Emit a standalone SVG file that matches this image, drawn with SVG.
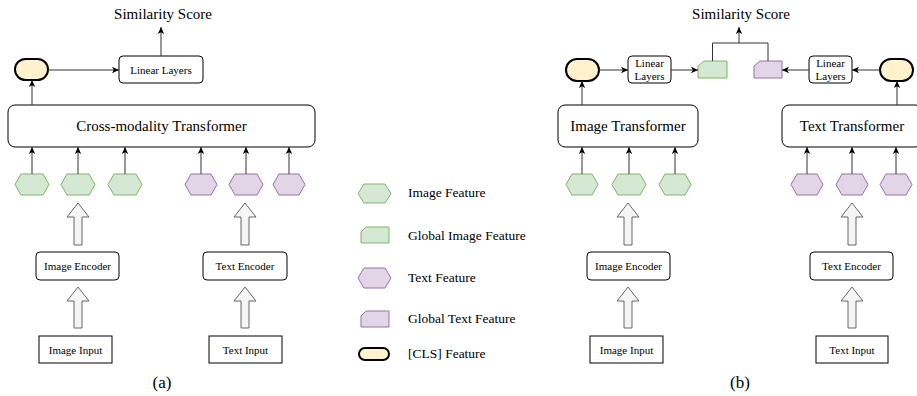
<svg xmlns="http://www.w3.org/2000/svg" width="917" height="396" viewBox="0 0 917 396">
<defs>
<marker id="ah" markerUnits="userSpaceOnUse" markerWidth="8" markerHeight="8" viewBox="0 0 8 8" refX="7" refY="4" orient="auto">
<path d="M0,0.8 L7,4 L0,7.2 L1.8,4 z" fill="#000"/>
</marker>
</defs>
<style>
text{font-family:"Liberation Serif","Times New Roman",serif;fill:#000;text-anchor:middle}
.box{fill:#fff;stroke:#000;stroke-width:1}
.hg{fill:#d5e8d4;stroke:#82b366;stroke-width:1}
.hp{fill:#e1d5e7;stroke:#9673a6;stroke-width:1}
.cls{fill:#fff2cc;stroke:#000;stroke-width:2}
.big{fill:#f5f5f5;stroke:#666;stroke-width:1}
.c{fill:none;stroke:#333;stroke-width:1;marker-end:url(#ah)}
.ln{fill:none;stroke:#333;stroke-width:1}
.t11{font-size:11px}
.t13{font-size:13.5px;text-anchor:start}
.t15{font-size:15px}
.t17{font-size:17px}
</style>
<rect width="917" height="396" fill="#fff"/>

<!-- Panel (a) -->
<g id="a-score"><text class="t15" x="163" y="19">Similarity Score</text></g>
<g id="a-linear"><rect class="box" x="119" y="56" width="84" height="27" rx="4"/><text class="t11" x="161" y="73.5">Linear Layers</text></g>
<g id="a-cls"><rect class="cls" x="15" y="59" width="33" height="21" rx="10.5"/></g>
<g id="a-cross"><rect class="box" x="8" y="105" width="307" height="42" rx="7"/><text class="t15" x="161.5" y="131">Cross-modality Transformer</text></g>
<g id="a-img-feat">
<polygon class="hg" points="15,184.5 21,174 43,174 49,184.5 43,195 21,195"/>
<polygon class="hg" points="61,184.5 67,174 89,174 95,184.5 89,195 67,195"/>
<polygon class="hg" points="108,184.5 114,174 136,174 142,184.5 136,195 114,195"/>
</g>
<g id="a-txt-feat">
<polygon class="hp" points="185,184.5 191,174 211,174 217,184.5 211,195 191,195"/>
<polygon class="hp" points="229,184.5 235,174 257,174 263,184.5 257,195 235,195"/>
<polygon class="hp" points="273,184.5 279,174 299,174 305,184.5 299,195 279,195"/>
</g>
<g id="a-img-enc"><rect class="box" x="36" y="252" width="83" height="28" rx="4"/><text class="t11" x="77.5" y="270">Image Encoder</text></g>
<g id="a-txt-enc"><rect class="box" x="203" y="252" width="84" height="28" rx="4"/><text class="t11" x="245" y="270">Text Encoder</text></g>
<g id="a-img-in"><rect class="box" x="39" y="336" width="73" height="27"/><text class="t11" x="75.5" y="353.5">Image Input</text></g>
<g id="a-txt-in"><rect class="box" x="209" y="336" width="73" height="27"/><text class="t11" x="245.5" y="353.5">Text Input</text></g>
<g id="a-label"><text class="t17" x="162" y="388">(a)</text></g>

<!-- Legend -->
<g id="legend">
<polygon class="hg" points="358,193.5 364,184 385,184 391,193.5 385,203 364,203"/>
<text class="t13" x="408" y="197">Image Feature</text>
<polygon class="hg" points="361,232 366,227 389,227 389,243 361,243"/>
<text class="t13" x="408" y="240">Global Image Feature</text>
<polygon class="hp" points="358,278 364,268 385,268 391,278 385,288 364,288"/>
<text class="t13" x="408" y="282">Text Feature</text>
<polygon class="hp" points="361,316 366,311 389,311 389,327 361,327"/>
<text class="t13" x="408" y="323">Global Text Feature</text>
<rect class="cls" x="359" y="348" width="30" height="12" rx="6"/>
<text class="t13" x="408" y="358">[CLS] Feature</text>
</g>

<!-- Panel (b) -->
<g id="b-score"><text class="t15" x="741" y="19">Similarity Score</text></g>
<g id="b-cls-l"><rect class="cls" x="566" y="59" width="33" height="22" rx="11"/></g>
<g id="b-linear-l"><rect class="box" x="628" y="56" width="43" height="27" rx="4"/><text class="t11" x="649.5" y="67">Linear</text><text class="t11" x="649.5" y="80">Layers</text></g>
<g id="b-glob-img"><polygon class="hg" points="698,66 704,61 727,61 727,78 698,78"/></g>
<g id="b-glob-txt"><polygon class="hp" points="754,66 760,61 782,61 782,78 754,78"/></g>
<g id="b-linear-r"><rect class="box" x="809" y="56" width="43" height="27" rx="4"/><text class="t11" x="830.5" y="67">Linear</text><text class="t11" x="830.5" y="80">Layers</text></g>
<g id="b-cls-r"><rect class="cls" x="880" y="59" width="33" height="22" rx="11"/></g>
<g id="b-img-tr"><rect class="box" x="558" y="105" width="140" height="42" rx="7"/><text class="t15" x="628" y="131">Image Transformer</text></g>
<g id="b-txt-tr"><rect class="box" x="782" y="105" width="140" height="42" rx="7"/><text class="t15" x="852" y="131">Text Transformer</text></g>
<g id="b-img-feat">
<polygon class="hg" points="566,184.5 572,174 592,174 598,184.5 592,195 572,195"/>
<polygon class="hg" points="612,184.5 618,174 640,174 646,184.5 640,195 618,195"/>
<polygon class="hg" points="659,184.5 665,174 685,174 691,184.5 685,195 665,195"/>
</g>
<g id="b-txt-feat">
<polygon class="hp" points="791,184.5 797,174 817,174 823,184.5 817,195 797,195"/>
<polygon class="hp" points="836,184.5 842,174 862,174 868,184.5 862,195 842,195"/>
<polygon class="hp" points="880,184.5 886,174 906,174 912,184.5 906,195 886,195"/>
</g>
<g id="b-img-enc"><rect class="box" x="587" y="252" width="83" height="28" rx="4"/><text class="t11" x="628.5" y="270">Image Encoder</text></g>
<g id="b-txt-enc"><rect class="box" x="810" y="252" width="83" height="28" rx="4"/><text class="t11" x="851.5" y="270">Text Encoder</text></g>
<g id="b-img-in"><rect class="box" x="590" y="336" width="73" height="27"/><text class="t11" x="626.5" y="353.5">Image Input</text></g>
<g id="b-txt-in"><rect class="box" x="816" y="336" width="72" height="27"/><text class="t11" x="852" y="353.5">Text Input</text></g>
<g id="b-label"><text class="t17" x="740" y="388">(b)</text></g>

<!-- Connectors -->
<g id="connectors">
<path class="c" d="M161,56 V27"/>
<path class="c" d="M48,70 H119"/>
<path class="c" d="M32,105 V80"/>
<path class="c" d="M32,174 V147"/>
<path class="c" d="M78,174 V147"/>
<path class="c" d="M125,174 V147"/>
<path class="c" d="M201,174 V147"/>
<path class="c" d="M246,174 V147"/>
<path class="c" d="M289,174 V147"/>

<path class="ln" d="M712.5,61 V43 H768 V61"/>
<path class="c" d="M739,43 V27"/>
<path class="c" d="M599,70 H628"/>
<path class="c" d="M671,70 H698"/>
<path class="c" d="M880,70 H852"/>
<path class="c" d="M809,70 H782"/>
<path class="c" d="M582,105 V81"/>
<path class="c" d="M897,105 V81"/>
<path class="c" d="M582,174 V147"/>
<path class="c" d="M629,174 V147"/>
<path class="c" d="M675,174 V147"/>
<path class="c" d="M807,174 V147"/>
<path class="c" d="M852,174 V147"/>
<path class="c" d="M896,174 V147"/>

<polygon class="big" points="78,203 89,217 82,217 82,245 74,245 74,217 67,217"/>
<polygon class="big" points="78,287 89,301 82,301 82,328 74,328 74,301 67,301"/>
<polygon class="big" points="245,203 256,217 249,217 249,245 241,245 241,217 234,217"/>
<polygon class="big" points="245,287 256,301 249,301 249,328 241,328 241,301 234,301"/>
<polygon class="big" points="628,203 639,217 632,217 632,245 624,245 624,217 617,217"/>
<polygon class="big" points="628,287 639,301 632,301 632,328 624,328 624,301 617,301"/>
<polygon class="big" points="852,203 863,217 856,217 856,245 848,245 848,217 841,217"/>
<polygon class="big" points="852,287 863,301 856,301 856,328 848,328 848,301 841,301"/>
</g>
</svg>
